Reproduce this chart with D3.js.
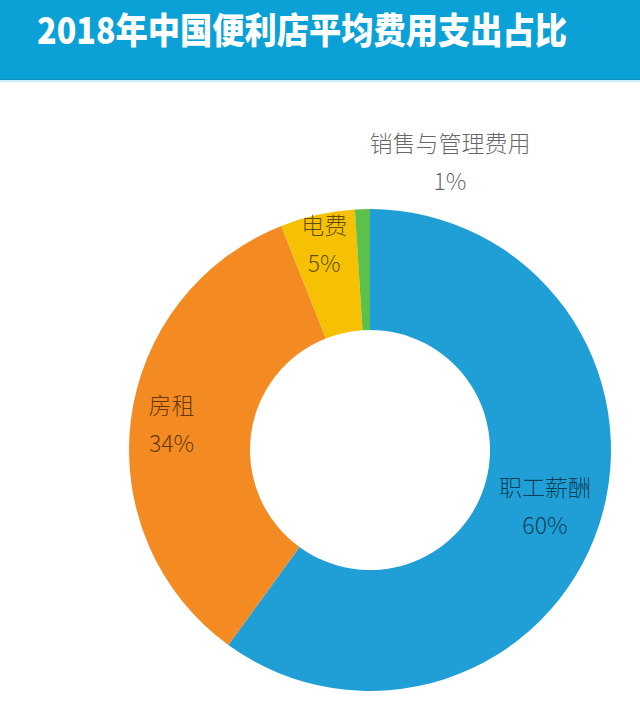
<!DOCTYPE html>
<html>
<head>
<meta charset="utf-8">
<script src="https://cdn.jsdelivr.net/npm/d3@7"></script>
<style>
  html, body { margin: 0; padding: 0; background: #fff; }
  svg { display: block; font-family: "Noto Sans CJK SC", "Noto Sans", sans-serif; }
</style>
</head>
<body>
<div id="chart"></div>
<script>
// data
const title = "2018年中国便利店平均费用支出占比";
const categories = ["职工薪酬", "房租", "电费", "销售与管理费用"];
const shares = [60, 34, 5, 1];
const colors = ["#1f9fd6", "#f48b22", "#f5c102", "#5cc14a"];

const width = 640;
const height = 711;
const cx = 370;
const cy = 450;
const outerR = 241;
const innerR = 120;
// radius at which each inside label sits, outside label handled apart
const labelR = [184, 200, 210, 287];

const svg = d3.select("#chart")
  .append("svg")
  .attr("width", width)
  .attr("height", height);

// header band
svg.append("rect")
  .attr("x", 0).attr("y", 0)
  .attr("width", width).attr("height", 80)
  .attr("fill", "#0ba1d6");
svg.append("rect")
  .attr("x", 0).attr("y", 79)
  .attr("width", width).attr("height", 1)
  .attr("fill", "#1892c2");
svg.append("rect")
  .attr("x", 0).attr("y", 80)
  .attr("width", width).attr("height", 2)
  .attr("fill", "#c9eef8");

svg.append("text")
  .attr("x", 37)
  .attr("y", 44)
  .attr("fill", "#fff")
  .attr("font-size", 36)
  .attr("font-weight", 900)
  .attr("textLength", 530)
  .attr("lengthAdjust", "spacingAndGlyphs")
  .text(title);

const data = categories.map((c, i) => ({ name: c, value: shares[i], color: colors[i], idx: i }));

const pie = d3.pie().sort(null).value((d) => d.value);
const arcs = pie(data);

const arc = d3.arc().innerRadius(innerR).outerRadius(outerR);

const g = svg.append("g").attr("transform", `translate(${cx},${cy})`);

g.selectAll("path")
  .data(arcs)
  .enter()
  .append("path")
  .attr("d", arc)
  .attr("fill", (d) => d.data.color);

// labels
const labels = g.selectAll("g.label")
  .data(arcs)
  .enter()
  .append("g")
  .attr("class", "label")
  .attr("transform", (d) => {
    const r = labelR[d.data.idx];
    const [x, y] = d3.arc().innerRadius(r).outerRadius(r).centroid(d);
    // the tiny slice has its label pushed out to the right
    const shift = d.data.idx === 3 ? 89 : 0;
    return `translate(${x + shift},${y})`;
  });

labels.append("text")
  .attr("text-anchor", "middle")
  .attr("y", -11)
  .attr("font-size", 23)
  .attr("font-weight", 300)
  .attr("fill", "#000")
  .attr("fill-opacity", 0.62)
  .text((d) => d.data.name);

labels.append("text")
  .attr("text-anchor", "middle")
  .attr("y", 27)
  .attr("font-size", 23)
  .attr("font-weight", 300)
  .attr("fill", "#000")
  .attr("fill-opacity", 0.62)
  .text((d) => d.data.value + "%");
</script>
</body>
</html>
